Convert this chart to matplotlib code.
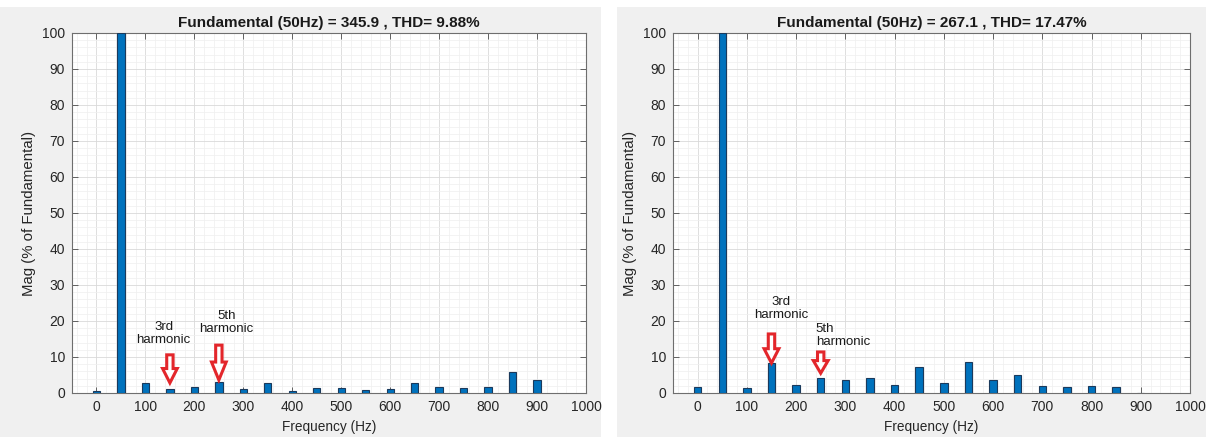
import matplotlib.pyplot as plt
import matplotlib.patches as mpatches
from matplotlib.ticker import MultipleLocator

plt.rcParams['font.family'] = ['Liberation Sans', 'DejaVu Sans']

# harmonic spectrum data
freqs = [0, 50, 100, 150, 200, 250, 300, 350, 400, 450, 500, 550, 600, 650, 700, 750, 800, 850, 900]
mag_left = [0.6, 100, 2.7, 1.0, 1.8, 3.0, 1.0, 2.9, 0.6, 1.3, 1.3, 0.8, 1.0, 2.7, 1.6, 1.3, 1.7, 5.8, 3.6]
mag_right = [1.6, 100, 1.3, 8.2, 2.3, 4.1, 3.6, 4.1, 2.3, 7.1, 2.8, 8.7, 3.7, 5.1, 2.0, 1.6, 2.0, 1.8, 0.0]

titles = ['Fundamental (50Hz) = 345.9 , THD= 9.88%',
          'Fundamental (50Hz) = 267.1 , THD= 17.47%']

# arrows: (x, y_top, y_tip, head_len) and labels: (x, y, text, ha)
arrows_left = [(150, 10.6, 2.8, 4.0), (250, 13.3, 3.6, 5.0)]
labels_left = [(137, 16.5, '3rd\nharmonic', 'center'), (266, 19.5, '5th\nharmonic', 'center')]
arrows_right = [(150, 16.4, 8.3, 4.0), (250, 11.4, 5.5, 3.5)]
labels_right = [(170, 23.5, '3rd\nharmonic', 'center'), (240, 16.0, '5th\nharmonic', 'left')]

W, H = 1206, 437
fig = plt.figure(figsize=(W / 100, H / 100), dpi=100)
fig.patch.set_facecolor('white')

# gray panel backgrounds
fig.patches.append(mpatches.Rectangle((0, 0), 601 / W, 430 / H, transform=fig.transFigure,
                                      facecolor='#f0f0f0', edgecolor='none', zorder=-10))
fig.patches.append(mpatches.Rectangle((617 / W, 0), (W - 617) / W, 430 / H, transform=fig.transFigure,
                                      facecolor='#f0f0f0', edgecolor='none', zorder=-10))


def make_panel(x0, x1, mags, title, arrows, labels):
    top, bottom = 33, 393
    ax = fig.add_axes([x0 / W, 1 - bottom / H, (x1 - x0) / W, (bottom - top) / H])
    ax.set_facecolor('white')
    ax.bar(freqs, mags, width=15, color='#0072BD', edgecolor='#1b3a5c', linewidth=0.8, zorder=3)
    ax.set_xlim(-50, 1000)
    ax.set_ylim(0, 100)
    ax.xaxis.set_major_locator(MultipleLocator(100))
    ax.xaxis.set_minor_locator(MultipleLocator(20))
    ax.yaxis.set_major_locator(MultipleLocator(10))
    ax.yaxis.set_minor_locator(MultipleLocator(2))
    ax.grid(which='major', color='#d9d9d9', linewidth=0.6, zorder=0)
    ax.grid(which='minor', color='#efefef', linewidth=0.5, zorder=0)
    ax.set_axisbelow(True)
    ax.tick_params(which='major', direction='in', length=4, width=0.6, top=True, right=True,
                   labelsize=10, labelcolor='#262626', color='#4d4d4d', pad=5)
    ax.tick_params(which='minor', length=0, top=True, right=True)
    for s in ax.spines.values():
        s.set_color('#6e6e6e')
        s.set_linewidth(0.8)
    ax.set_title(title, fontsize=11, fontweight='bold', color='#1a1a1a', pad=4)
    ax.set_xlabel('Frequency (Hz)', fontsize=9.8, color='#262626', labelpad=4)
    ax.set_ylabel('Mag (% of Fundamental)', fontsize=10.8, color='#262626', labelpad=4)

    for x, ytop, ytip, hl in arrows:
        arr = mpatches.FancyArrow(x, ytop, 0, ytip - ytop, width=13, head_width=30,
                                  head_length=hl, length_includes_head=True,
                                  facecolor='white', edgecolor='#e3262b', linewidth=2.2, zorder=5)
        ax.add_patch(arr)
    for x, y, txt, ha in labels:
        ax.text(x, y, txt, ha=ha, va='center', fontsize=9.5, color='#1a1a1a',
                linespacing=1.1, zorder=6)
    return ax


make_panel(72, 586, mag_left, titles[0], arrows_left, labels_left)
make_panel(673, 1190, mag_right, titles[1], arrows_right, labels_right)

fig.savefig('out.png', dpi=100)
